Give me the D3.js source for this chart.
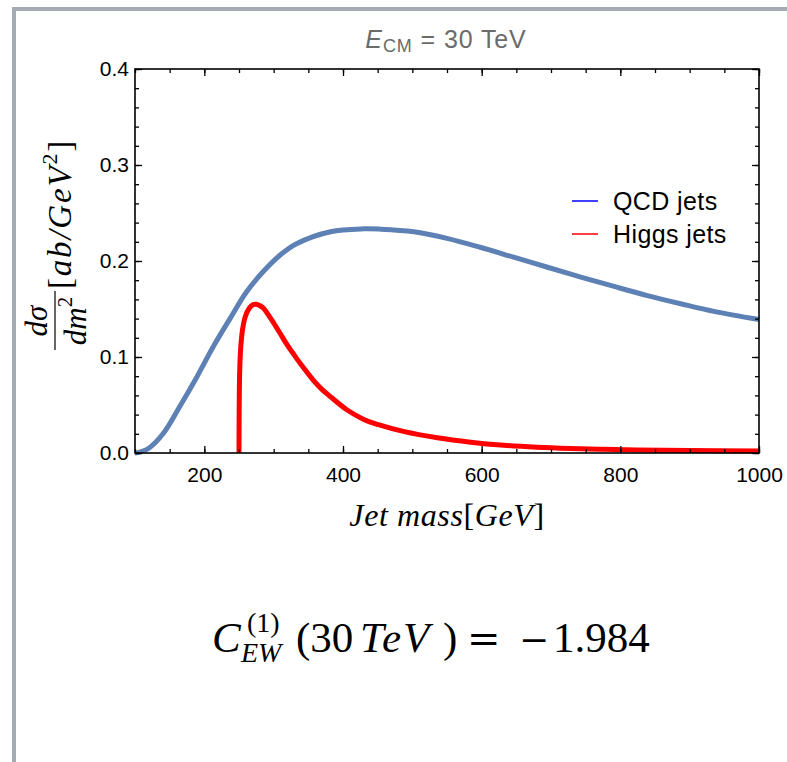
<!DOCTYPE html>
<html>
<head>
<meta charset="utf-8">
<script src="https://cdn.jsdelivr.net/npm/d3@7/dist/d3.min.js"></script>
<style>
  body { margin: 0; background: #fff; }
  svg { display: block; }
</style>
</head>
<body>
<div id="chart"></div>
<script>

// QCD jets
var qcdMass  = [100, 107, 120, 141, 165, 189, 213, 237, 261, 285, 309, 333, 382, 430, 454, 502, 550, 598, 646, 695, 743, 791, 839, 887, 935, 1000]
var qcdValue = [0, 0.001, 0.005, 0.0205, 0.049, 0.079, 0.111, 0.140, 0.168, 0.189, 0.206, 0.218, 0.2305, 0.2335, 0.2332, 0.2305, 0.2236, 0.2143, 0.204, 0.1935, 0.1833, 0.1735, 0.164, 0.1555, 0.1475, 0.139]

// Higgs jets (sharp threshold at 250)
var higgsMass  = [250, 250.3, 251, 252.5, 255, 259, 265, 270, 275, 280, 285, 295, 309, 320, 333, 345, 357, 370, 382, 406, 430, 451, 487, 536, 584, 632, 680, 728, 776, 824, 900, 1000]
var higgsValue = [0, 0.05, 0.085, 0.11, 0.128, 0.142, 0.151, 0.1545, 0.155, 0.1535, 0.151, 0.141, 0.125, 0.112, 0.0986, 0.087, 0.076, 0.066, 0.0586, 0.0448, 0.035, 0.0295, 0.0225, 0.0158, 0.0112, 0.008, 0.006, 0.0047, 0.0038, 0.0032, 0.0026, 0.002]

var seriesNames = ["QCD jets", "Higgs jets"]
var legendColors = ["#0000ff", "#ff0000"]
var curveColors = ["#5e81b5", "#ff0000"]

var xMajor = [200, 400, 600, 800, 1000]
var xMinor = d3.range(100, 1001, 50)
var yMajor = [0, 0.1, 0.2, 0.3, 0.4]
var yMinor = d3.range(0, 0.401, 0.02)

var width = 787
var height = 762

var plotLeft = 135, plotRight = 759, plotTop = 69, plotBottom = 453

var x = d3.scaleLinear().domain([100, 1000]).range([plotLeft, plotRight])
var y = d3.scaleLinear().domain([0, 0.4]).range([plotBottom, plotTop])

var svg = d3.select("#chart").append("svg")
  .attr("width", width)
  .attr("height", height)

// slide frame (grey border top and left)
svg.append("path")
  .attr("d", "M14," + height + " V9 H" + width)
  .attr("fill", "none")
  .attr("stroke", "#a4abb4")
  .attr("stroke-width", 4)

// title
var title = svg.append("text")
  .attr("x", 446)
  .attr("y", 48)
  .attr("text-anchor", "middle")
  .attr("font-family", "Liberation Sans, Arial, sans-serif")
  .attr("font-size", "25px")
  .attr("letter-spacing", "0.9px")
  .attr("fill", "#6b6b6b")
title.append("tspan").attr("font-style", "italic").text("E")
title.append("tspan").attr("font-size", "18px").attr("dy", 4).text("CM")
title.append("tspan").attr("dy", -4).text(" = 30 TeV")

// curves
var line = d3.line()
  .x(d => x(d[0]))
  .y(d => y(d[1]))
  .curve(d3.curveCatmullRom.alpha(0.5))

var qcd = qcdMass.map((m, i) => [m, qcdValue[i]])
var higgs = higgsMass.map((m, i) => [m, higgsValue[i]])

var plot = svg.append("g")

plot.append("path")
  .datum(qcd)
  .attr("d", line)
  .attr("fill", "none")
  .attr("stroke", curveColors[0])
  .attr("stroke-width", 5)

plot.append("path")
  .datum(higgs)
  .attr("d", line)
  .attr("fill", "none")
  .attr("stroke", curveColors[1])
  .attr("stroke-width", 5)

// axes, ticks pointing inward on all four sides
function styleAxis(g) {
  g.select(".domain").remove()
  g.selectAll("line").attr("stroke", "#000").attr("stroke-width", 1.3)
  g.selectAll("text")
    .attr("font-family", "Liberation Sans, Arial, sans-serif")
    .attr("font-size", "21px")
    .attr("fill", "#000")
}

var axisBottom = svg.append("g").attr("transform", `translate(0,${plotBottom})`)
axisBottom.append("g").call(d3.axisBottom(x).tickValues(xMinor).tickSize(-4).tickFormat("")).call(styleAxis)
axisBottom.append("g").call(d3.axisBottom(x).tickValues(xMajor).tickSize(-7).tickPadding(14).tickFormat(d3.format("d"))).call(styleAxis)

var axisTop = svg.append("g").attr("transform", `translate(0,${plotTop})`)
axisTop.append("g").call(d3.axisTop(x).tickValues(xMinor).tickSize(-4).tickFormat("")).call(styleAxis)
axisTop.append("g").call(d3.axisTop(x).tickValues(xMajor).tickSize(-7).tickFormat("")).call(styleAxis)

var axisLeft = svg.append("g").attr("transform", `translate(${plotLeft},0)`)
axisLeft.append("g").call(d3.axisLeft(y).tickValues(yMinor).tickSize(-4).tickFormat("")).call(styleAxis)
axisLeft.append("g").call(d3.axisLeft(y).tickValues(yMajor).tickSize(-7).tickPadding(6).tickFormat(d3.format(".1f"))).call(styleAxis)

var axisRight = svg.append("g").attr("transform", `translate(${plotRight},0)`)
axisRight.append("g").call(d3.axisRight(y).tickValues(yMinor).tickSize(-4).tickFormat("")).call(styleAxis)
axisRight.append("g").call(d3.axisRight(y).tickValues(yMajor).tickSize(-7).tickFormat("")).call(styleAxis)

svg.append("rect")
  .attr("x", plotLeft)
  .attr("y", plotTop)
  .attr("width", plotRight - plotLeft)
  .attr("height", plotBottom - plotTop)
  .attr("fill", "none")
  .attr("stroke", "#000")
  .attr("stroke-width", 1.6)

// legend
var legend = svg.append("g").attr("transform", "translate(572,201)")
var item = legend.selectAll("g")
  .data(seriesNames)
  .enter().append("g")
  .attr("transform", (d, i) => `translate(0,${i * 33})`)
item.append("line")
  .attr("x1", 0).attr("x2", 26)
  .attr("stroke", (d, i) => legendColors[i])
  .attr("stroke-width", 1.5)
item.append("text")
  .attr("x", 41)
  .attr("dy", "0.36em")
  .attr("font-family", "Liberation Sans, Arial, sans-serif")
  .attr("font-size", "25px")
  .attr("letter-spacing", "0.4px")
  .text(d => d)

// x axis label (LaTeX style)
var serif = "Liberation Serif, Times New Roman, serif"
var xlab = svg.append("text")
  .attr("x", 447)
  .attr("y", 526)
  .attr("text-anchor", "middle")
  .attr("font-family", serif)
  .attr("font-size", "32px")
  .attr("letter-spacing", "0.6px")
xlab.append("tspan").attr("font-style", "italic").text("Jet mass")
xlab.append("tspan").text("[")
xlab.append("tspan").attr("font-style", "italic").text("GeV")
xlab.append("tspan").text("]")

// y axis label: d sigma / d m^2 [ab/GeV^2], rotated
var ylab = svg.append("g")
  .attr("transform", "translate(86,352) rotate(-90)")
  .attr("font-family", serif)
  .attr("font-style", "italic")
  .attr("font-size", "31px")
ylab.append("text").attr("x", 31).attr("y", -39).attr("text-anchor", "middle").text("dσ")
ylab.append("line").attr("x1", 2).attr("x2", 61).attr("y1", -31).attr("y2", -31)
  .attr("stroke", "#000").attr("stroke-width", 1.2)
var den = ylab.append("text").attr("x", 31).attr("y", 0).attr("text-anchor", "middle")
den.append("tspan").text("dm")
den.append("tspan").attr("font-size", "21px").attr("font-style", "normal").attr("dy", -14).text("2")
var br = ylab.append("text").attr("x", 63).attr("y", -15).attr("font-size", "33px").attr("letter-spacing", "1.8px")
br.append("tspan").attr("font-style", "normal").text("[")
br.append("tspan").text("ab/GeV")
br.append("tspan").attr("font-size", "22px").attr("font-style", "normal").attr("dy", -14).text("2")
br.append("tspan").attr("font-style", "normal").attr("dy", 14).text("]")

// coefficient under the chart
var formula = svg.append("text")
  .attr("x", 212)
  .attr("y", 652)
  .attr("font-family", serif)
  .attr("font-size", "43px")
  .attr("fill", "#000")
formula.append("tspan").attr("font-style", "italic").text("C")
formula.append("tspan").attr("font-style", "italic").attr("font-size", "28px").attr("x", 241).attr("dy", 10).text("EW")
formula.append("tspan").attr("font-size", "28px").attr("x", 247).attr("dy", -30).text("(1)")
formula.append("tspan").attr("x", 296).attr("dy", 20).text("(30")
formula.append("tspan").attr("x", 360).attr("font-style", "italic").attr("letter-spacing", "2px").text("TeV")
formula.append("tspan").attr("x", 443).text(")")
formula.append("tspan").attr("x", 467).attr("font-family", "DejaVu Serif").attr("font-size", "40px").text("=")
formula.append("tspan").attr("x", 519).attr("font-family", "DejaVu Serif").attr("font-size", "36px").text("−")
formula.append("tspan").attr("x", 553).text("1.984")

</script>
</body>
</html>
